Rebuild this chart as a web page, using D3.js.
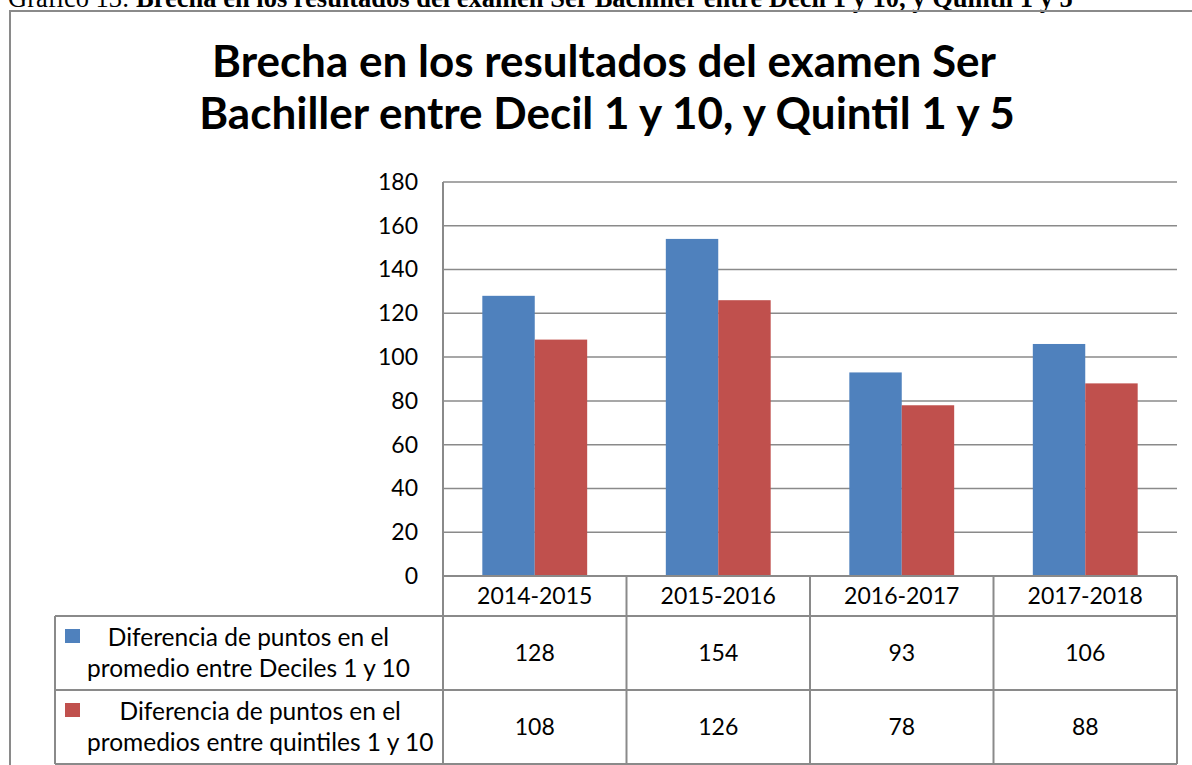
<!DOCTYPE html>
<html>
<head>
<meta charset="utf-8">
<script src="https://cdn.jsdelivr.net/npm/d3@7"></script>
<style>
  html, body { margin: 0; padding: 0; background: #fff; }
  svg { display: block; }
</style>
</head>
<body>
<figure id="chart" style="margin:0"></figure>
<script>
// chart data
const categories = ['2014-2015', '2015-2016', '2016-2017', '2017-2018'];
const seriesNames = [
  ['Diferencia de puntos en el', 'promedio entre Deciles 1 y 10'],
  ['Diferencia de puntos en el', 'promedios entre quintiles 1 y 10']
];
const deciles = [128, 154, 93, 106];
const quintiles = [108, 126, 78, 88];
const yTicks = [0, 20, 40, 60, 80, 100, 120, 140, 160, 180];
const colors = ['#4F81BD', '#C0504D'];

const width = 1192;
const height = 765;
const plot = { left: 443, right: 1177, top: 182, bottom: 576 };
const rowH = [40, 74, 74];
const tableLeft = 55;
const gridColor = '#8a8a8a';
const font = 'Lato, Carlito, Calibri, sans-serif';
const numSize = 23;
const labelSize = 24.5;

const values = [deciles, quintiles];

const svg = d3.select('figure#chart')
  .append('svg')
  .attr('width', width)
  .attr('height', height)
  .attr('font-family', font);

// caption above the frame (partially cut off in the source)
const cap = svg.append('text')
  .attr('x', 8)
  .attr('y', 7)
  .attr('font-family', '"Liberation Serif", "Times New Roman", serif')
  .attr('font-size', 26.5);
cap.append('tspan').text('Gráfico 13: ');
cap.append('tspan').attr('font-weight', 'bold')
  .text('Brecha en los resultados del examen Ser Bachiller entre Decil 1 y 10, y Quintil 1 y 5');

// chart frame
svg.append('rect')
  .attr('x', 10).attr('y', 11)
  .attr('width', 1300).attr('height', 900)
  .attr('fill', 'none')
  .attr('stroke', gridColor)
  .attr('stroke-width', 2);

// title
const title = svg.append('text')
  .attr('text-anchor', 'middle')
  .attr('font-weight', 'bold')
  .attr('font-size', 44);
title.append('tspan').attr('x', 604).attr('y', 77).text('Brecha en los resultados del examen Ser');
title.append('tspan').attr('x', 607).attr('y', 129).text('Bachiller entre Decil 1 y 10, y Quintil 1 y 5');

const x = d3.scaleBand()
  .domain(categories)
  .range([plot.left, plot.right]);

const xs = d3.scaleBand()
  .domain([0, 1])
  .range([0, x.bandwidth()])
  .paddingInner(0)
  .paddingOuter(0.75);

const y = d3.scaleLinear()
  .domain([0, 180])
  .range([plot.bottom, plot.top]);

// gridlines
svg.append('g')
  .selectAll('line')
  .data(yTicks.filter(d => d > 0))
  .join('line')
  .attr('x1', plot.left).attr('x2', plot.right)
  .attr('y1', d => y(d)).attr('y2', d => y(d))
  .attr('stroke', gridColor)
  .attr('stroke-width', 1.5);

// y axis labels
const yAxis = g => g
  .attr('transform', `translate(${plot.left},0)`)
  .call(d3.axisLeft(y).tickValues(yTicks).tickSize(0).tickPadding(25))
  .call(g => g.select('.domain').remove())
  .call(g => g.selectAll('text')
    .attr('font-family', font)
    .attr('font-size', numSize)
    .attr('fill', '#000'));

svg.append('g').call(yAxis);

// bars
svg.append('g')
  .selectAll('g')
  .data(values)
  .join('g')
  .attr('fill', (d, i) => colors[i])
  .each(function (vals, si) {
    d3.select(this).selectAll('rect')
      .data(vals)
      .join('rect')
      .attr('x', (v, i) => x(categories[i]) + xs(si))
      .attr('width', xs.bandwidth())
      .attr('y', v => y(v))
      .attr('height', v => y(0) - y(v));
  });

// axis line
svg.append('line')
  .attr('x1', plot.left).attr('x2', plot.left)
  .attr('y1', plot.top).attr('y2', plot.bottom)
  .attr('stroke', gridColor).attr('stroke-width', 2);

// data table
const rowY = [plot.bottom, plot.bottom + rowH[0], plot.bottom + rowH[0] + rowH[1],
  plot.bottom + rowH[0] + rowH[1] + rowH[2]];
const table = svg.append('g')
  .attr('stroke', gridColor)
  .attr('stroke-width', 2);

table.append('line')
  .attr('x1', plot.left).attr('x2', plot.right)
  .attr('y1', rowY[0]).attr('y2', rowY[0]);
rowY.slice(1).forEach(yy => {
  table.append('line')
    .attr('x1', tableLeft).attr('x2', plot.right)
    .attr('y1', yy).attr('y2', yy);
});
table.append('line')
  .attr('x1', tableLeft).attr('x2', tableLeft)
  .attr('y1', rowY[1]).attr('y2', rowY[3]);
categories.concat([null]).forEach(c => {
  const xx = c ? x(c) : plot.right;
  table.append('line')
    .attr('x1', xx).attr('x2', xx)
    .attr('y1', rowY[0]).attr('y2', rowY[3]);
});

// header labels
svg.append('g')
  .selectAll('text')
  .data(categories)
  .join('text')
  .attr('x', d => x(d) + x.bandwidth() / 2)
  .attr('y', (rowY[0] + rowY[1]) / 2)
  .attr('dy', '0.35em')
  .attr('text-anchor', 'middle')
  .attr('font-size', numSize)
  .text(d => d);

// values
values.forEach((vals, si) => {
  svg.append('g')
    .selectAll('text')
    .data(vals)
    .join('text')
    .attr('x', (v, i) => x(categories[i]) + x.bandwidth() / 2)
    .attr('y', (rowY[si + 1] + rowY[si + 2]) / 2)
    .attr('dy', '0.35em')
    .attr('text-anchor', 'middle')
    .attr('font-size', numSize)
    .text(v => v);
});

// legend cells
seriesNames.forEach((lines, si) => {
  const mid = (rowY[si + 1] + rowY[si + 2]) / 2;
  svg.append('rect')
    .attr('x', 65).attr('y', mid - 24)
    .attr('width', 15).attr('height', 14)
    .attr('fill', colors[si]);
  const l2 = svg.append('text')
    .attr('x', 87).attr('y', mid + 15)
    .attr('dy', '0.35em')
    .attr('font-size', labelSize)
    .text(lines[1]);
  const w = l2.node().getComputedTextLength();
  svg.append('text')
    .attr('x', 87 + w / 2).attr('y', mid - 16)
    .attr('dy', '0.35em')
    .attr('text-anchor', 'middle')
    .attr('font-size', labelSize)
    .text(lines[0]);
});
</script>
</body>
</html>
